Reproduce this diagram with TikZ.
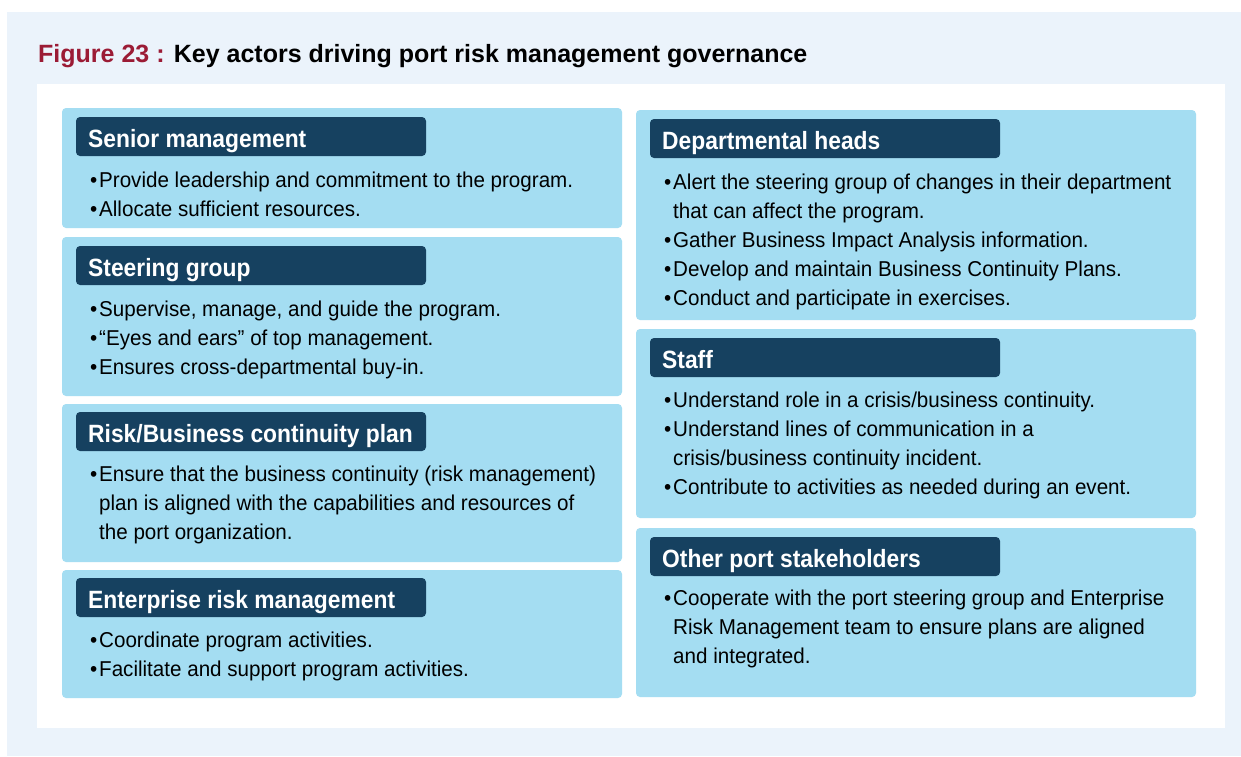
\documentclass[tikz,border=0pt]{standalone}
\usepackage{fontspec}
\setmainfont{Liberation Sans}
\newfontfamily\titlefont{Liberation Sans}
\newfontfamily\headfont{Liberation Sans}[FakeStretch=0.913]
\newfontfamily\bodyfont{Liberation Sans}[FakeStretch=0.958]
\definecolor{outerbg}{HTML}{EBF3FB}
\definecolor{boxblue}{HTML}{A4DDF2}
\definecolor{headblue}{HTML}{164160}
\definecolor{figred}{HTML}{9B1B35}
\newcommand{\bl}[1]{\par\noindent\makebox[9pt][l]{\textbullet}#1}
\newcommand{\cl}[1]{\par\noindent\hspace*{9pt}#1}
\tikzset{
  panel/.style={fill=boxblue, rounded corners=4pt, draw=none},
  headbox/.style={fill=headblue, rounded corners=4pt, draw=none},
  headtext/.style={anchor=base west, inner sep=0pt, text=white, font=\headfont\bfseries\fontsize{25}{30}\selectfont},
  bodytext/.style={anchor=base west, inner sep=0pt, text=black, font=\bodyfont\fontsize{21.5}{29}\selectfont},
}
\begin{document}
\begin{tikzpicture}[x=1pt,y=-1pt]
\useasboundingbox (0,0) rectangle (1241,756);
\fill[outerbg] (7,12) rectangle (1241,756);
\fill[white] (37,84) rectangle (1225,728);
% title
\node[anchor=base west, inner sep=0pt, font=\titlefont\bfseries\fontsize{25}{30}\selectfont] (title) at (38,62)
  {\textcolor{figred}{Figure 23 :} Key actors driving port risk management governance};
% left panels
\fill[panel] (62,108) rectangle (622,228);
\fill[panel] (62,237) rectangle (622,396);
\fill[panel] (62,404) rectangle (622,562);
\fill[panel] (62,570) rectangle (622,698);
% right panels
\fill[panel] (636,110) rectangle (1196,320);
\fill[panel] (636,329) rectangle (1196,518);
\fill[panel] (636,528) rectangle (1196,697);
% headers left
\fill[headbox] (76,117) rectangle (426,156);
\fill[headbox] (76,246) rectangle (426,285);
\fill[headbox] (76,412) rectangle (426,451);
\fill[headbox] (76,578) rectangle (426,617);
% headers right
\fill[headbox] (650,119) rectangle (1000,158);
\fill[headbox] (650,338) rectangle (1000,377);
\fill[headbox] (650,537) rectangle (1000,576);
% header texts
\node[headtext] (h1) at (88,147) {Senior management};
\node[headtext] (h2) at (88,276) {Steering group};
\node[headtext] (h3) at (88,442) {Risk/Business continuity plan};
\node[headtext] (h4) at (88,608) {Enterprise risk management};
\node[headtext] (h5) at (662,149) {Departmental heads};
\node[headtext] (h6) at (662,368) {Staff};
\node[headtext] (h7) at (662,567) {Other port stakeholders};
% body texts
\node[bodytext] (b1) at (90,187) {\parbox[t]{520pt}{%
  \bl{Provide leadership and commitment to the program.}
  \bl{Allocate sufficient resources.}}};
\node[bodytext] (b2) at (90,316) {\parbox[t]{520pt}{%
  \bl{Supervise, manage, and guide the program.}
  \bl{“Eyes and ears” of top management.}
  \bl{Ensures cross-departmental buy-in.}}};
\node[bodytext] (b3) at (90,481) {\parbox[t]{520pt}{%
  \bl{Ensure that the business continuity (risk management)}
  \cl{plan is aligned with the capabilities and resources of}
  \cl{the port organization.}}};
\node[bodytext] (b4) at (90,647) {\parbox[t]{520pt}{%
  \bl{Coordinate program activities.}
  \bl{Facilitate and support program activities.}}};
\node[bodytext] (b5) at (664,189) {\parbox[t]{520pt}{%
  \bl{Alert the steering group of changes in their department}
  \cl{that can affect the program.}
  \bl{Gather Business Impact Analysis information.}
  \bl{Develop and maintain Business Continuity Plans.}
  \bl{Conduct and participate in exercises.}}};
\node[bodytext] (b6) at (664,407) {\parbox[t]{520pt}{%
  \bl{Understand role in a crisis/business continuity.}
  \bl{Understand lines of communication in a}
  \cl{crisis/business continuity incident.}
  \bl{Contribute to activities as needed during an event.}}};
\node[bodytext] (b7) at (664,605) {\parbox[t]{520pt}{%
  \bl{Cooperate with the port steering group and Enterprise}
  \cl{Risk Management team to ensure plans are aligned}
  \cl{and integrated.}}};
\end{tikzpicture}
\end{document}
